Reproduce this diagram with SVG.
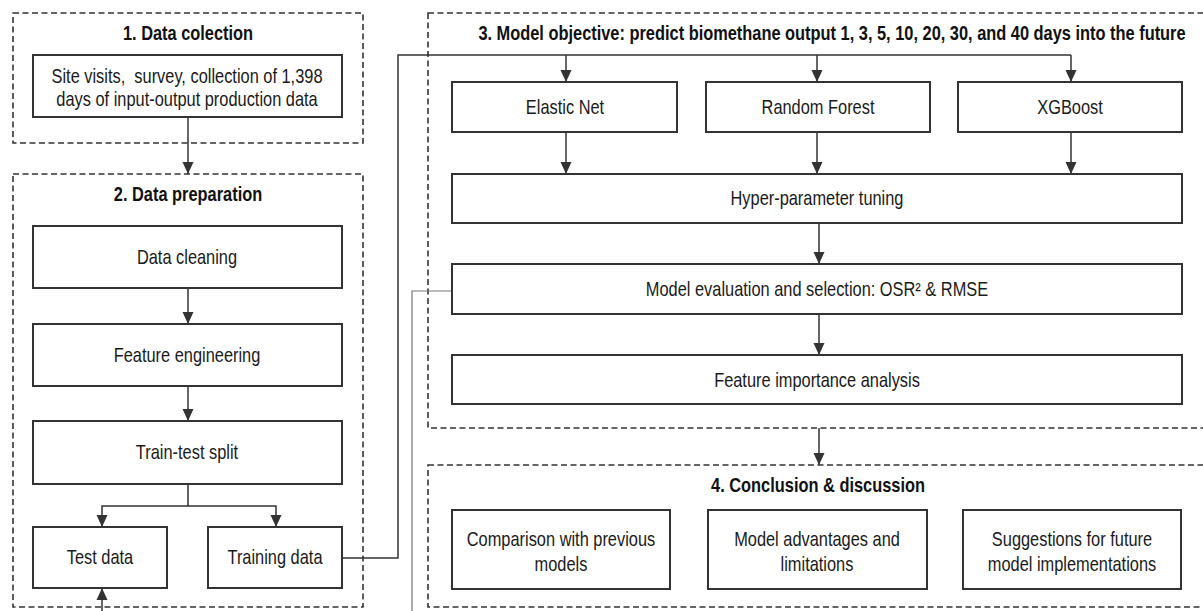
<svg xmlns="http://www.w3.org/2000/svg" width="1203" height="611" viewBox="0 0 1203 611">
<defs>
<marker id="arr" markerUnits="userSpaceOnUse" markerWidth="12" markerHeight="12" refX="12" refY="6" orient="auto">
<path d="M0,0.5 L12,6 L0,11.5 z" fill="#333"/>
</marker>
<style>
.sec{fill:none;stroke:#333;stroke-width:1.6;stroke-dasharray:6 3.5}
.box{fill:#fff;stroke:#333;stroke-width:2}
.t{font-family:"Liberation Sans",Arial,sans-serif;font-size:20px;fill:#1a1a1a;text-anchor:middle}
.h{font-family:"Liberation Sans",Arial,sans-serif;font-size:20px;font-weight:bold;fill:#111;text-anchor:middle}
.c{fill:none;stroke:#333;stroke-width:1.5}
.g{fill:none;stroke:#777;stroke-width:1.2}
</style>
</defs>
<rect width="1203" height="611" fill="#fff"/>

<g id="sec1">
<rect class="sec" x="13" y="13" width="350" height="130"/>
<text class="h" transform="translate(188,40) scale(0.82,1)">1. Data colection</text>
</g>
<g id="sec2">
<rect class="sec" x="13" y="174" width="350" height="433"/>
<text class="h" transform="translate(188,201) scale(0.82,1)">2. Data preparation</text>
</g>
<g id="sec3">
<rect class="sec" x="428" y="13" width="785" height="415"/>
<text class="h" transform="translate(832,40) scale(0.82,1)">3. Model objective: predict biomethane output 1, 3, 5, 10, 20, 30, and 40 days into the future</text>
</g>
<g id="sec4">
<rect class="sec" x="428" y="465" width="785" height="142"/>
<text class="h" transform="translate(818,492) scale(0.82,1)">4. Conclusion &amp; discussion</text>
</g>

<g id="connectors">
<line class="c" x1="188" y1="117" x2="188" y2="174" marker-end="url(#arr)"/>
<line class="c" x1="188" y1="288" x2="188" y2="324" marker-end="url(#arr)"/>
<line class="c" x1="188" y1="386" x2="188" y2="421" marker-end="url(#arr)"/>
<polyline class="c" points="188,484 188,506 102,506 102,527" marker-end="url(#arr)"/>
<polyline class="c" points="188,506 276,506 276,527" marker-end="url(#arr)"/>
<polyline class="c" points="342,558 398,558 398,55 1071,55"/>
<line class="c" x1="566" y1="55" x2="566" y2="82" marker-end="url(#arr)"/>
<line class="c" x1="817" y1="55" x2="817" y2="82" marker-end="url(#arr)"/>
<line class="c" x1="1071" y1="55" x2="1071" y2="82" marker-end="url(#arr)"/>
<line class="c" x1="566" y1="132" x2="566" y2="174" marker-end="url(#arr)"/>
<line class="c" x1="817" y1="132" x2="817" y2="174" marker-end="url(#arr)"/>
<line class="c" x1="1071" y1="132" x2="1071" y2="174" marker-end="url(#arr)"/>
<line class="c" x1="819" y1="223" x2="819" y2="264" marker-end="url(#arr)"/>
<line class="c" x1="819" y1="314" x2="819" y2="355" marker-end="url(#arr)"/>
<line class="c" x1="819" y1="428" x2="819" y2="465" marker-end="url(#arr)"/>
<polyline class="g" points="452,291 412,291 412,611"/>
<line class="c" x1="102" y1="611" x2="102" y2="588" marker-end="url(#arr)"/>
</g>

<g id="n-site">
<rect class="box" x="33" y="55" width="309" height="62"/>
<text class="t" transform="translate(187,83) scale(0.82,1)" xml:space="preserve">Site visits,  survey, collection of 1,398</text>
<text class="t" transform="translate(187,106) scale(0.82,1)">days of input-output production data</text>
</g>
<g id="n-clean">
<rect class="box" x="33" y="226" width="309" height="62"/>
<text class="t" transform="translate(187,264) scale(0.82,1)">Data cleaning</text>
</g>
<g id="n-feat">
<rect class="box" x="33" y="324" width="309" height="62"/>
<text class="t" transform="translate(187,362) scale(0.82,1)">Feature engineering</text>
</g>
<g id="n-split">
<rect class="box" x="33" y="421" width="309" height="63"/>
<text class="t" transform="translate(187,459) scale(0.82,1)">Train-test split</text>
</g>
<g id="n-test">
<rect class="box" x="33" y="527" width="134" height="61"/>
<text class="t" transform="translate(100,564) scale(0.82,1)">Test data</text>
</g>
<g id="n-train">
<rect class="box" x="208" y="527" width="134" height="61"/>
<text class="t" transform="translate(275,564) scale(0.82,1)">Training data</text>
</g>
<g id="n-en">
<rect class="box" x="452" y="82" width="225" height="50"/>
<text class="t" transform="translate(565,114) scale(0.82,1)">Elastic Net</text>
</g>
<g id="n-rf">
<rect class="box" x="706" y="82" width="224" height="50"/>
<text class="t" transform="translate(818,114) scale(0.82,1)">Random Forest</text>
</g>
<g id="n-xgb">
<rect class="box" x="958" y="82" width="224" height="50"/>
<text class="t" transform="translate(1070,114) scale(0.82,1)">XGBoost</text>
</g>
<g id="n-hyper">
<rect class="box" x="452" y="174" width="730" height="49"/>
<text class="t" transform="translate(817,205) scale(0.82,1)">Hyper-parameter tuning</text>
</g>
<g id="n-eval">
<rect class="box" x="452" y="264" width="730" height="50"/>
<text class="t" transform="translate(817,296) scale(0.82,1)">Model evaluation and selection: OSR² &amp; RMSE</text>
</g>
<g id="n-fi">
<rect class="box" x="452" y="355" width="730" height="49"/>
<text class="t" transform="translate(817,387) scale(0.82,1)">Feature importance analysis</text>
</g>
<g id="n-comp">
<rect class="box" x="452" y="510" width="218" height="79"/>
<text class="t" transform="translate(561,546) scale(0.82,1)">Comparison with previous</text>
<text class="t" transform="translate(561,571) scale(0.82,1)">models</text>
</g>
<g id="n-adv">
<rect class="box" x="708" y="510" width="219" height="79"/>
<text class="t" transform="translate(817,546) scale(0.82,1)">Model advantages and</text>
<text class="t" transform="translate(817,571) scale(0.82,1)">limitations</text>
</g>
<g id="n-sugg">
<rect class="box" x="963" y="510" width="218" height="79"/>
<text class="t" transform="translate(1072,546) scale(0.82,1)">Suggestions for future</text>
<text class="t" transform="translate(1072,571) scale(0.82,1)">model implementations</text>
</g>
</svg>
